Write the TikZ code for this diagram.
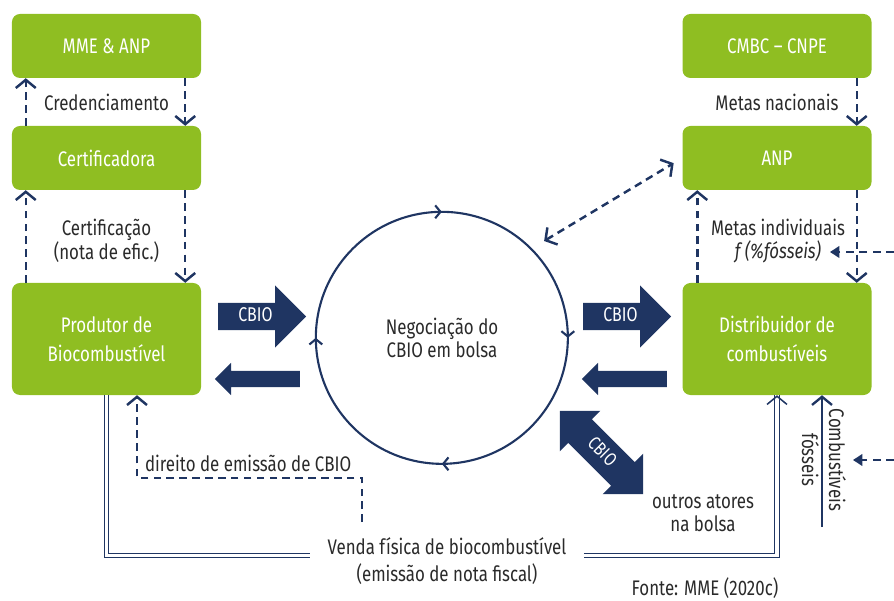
\documentclass[tikz,border=0pt]{standalone}
\usepackage{fontspec}
\setmainfont{Fira Sans}[FakeStretch=0.8]
\usetikzlibrary{arrows.meta, shapes.arrows, decorations.markings}
\definecolor{cbiogreen}{HTML}{8FBE22}
\definecolor{cbionavy}{HTML}{1F3562}
\definecolor{cbioink}{HTML}{2A2A2A}
\tikzset{
  chev/.tip={Straight Barb[length=7pt, width=17pt]},
  ringchev/.tip={Straight Barb[length=4.5pt, width=11pt]},
  feedtip/.tip={Triangle[length=8pt, width=10pt]},
  actor box/.style={rectangle, rounded corners=0.24cm, fill=cbiogreen,
    text=white, align=center, minimum width=5.67cm, minimum height=1.92cm,
    font=\fontsize{18}{24.5}\selectfont},
  flow label/.style={text=cbioink, align=center,
    font=\fontsize{18}{20}\selectfont},
  dash link/.style={draw=cbionavy, line width=2.1pt,
    dash pattern=on 6.5pt off 4.5pt, -chev},
  feed link/.style={draw=cbionavy, line width=1.4pt,
    dash pattern=on 6.5pt off 5pt, -feedtip},
  sale line/.style={draw=cbionavy, double=white, line width=0.9pt,
    double distance=2.6pt},
  fuel line/.style={draw=cbionavy, line width=2pt, -chev},
  cbio arrow/.style={single arrow, fill=cbionavy, text=white,
    inner xsep=0pt, inner ysep=0.25cm, text height=0.3cm, text depth=0pt,
    single arrow head extend=0.53cm, minimum width=0pt,
    minimum height=2.64cm, font=\fontsize{17}{18}\selectfont},
  back arrow/.style={single arrow, fill=cbionavy, inner xsep=0pt,
    inner ysep=0.24cm, text height=0pt, text depth=0pt,
    shape border rotate=180, single arrow head extend=0.24cm,
    minimum width=0pt, minimum height=2.55cm},
  swap arrow/.style={double arrow, fill=cbionavy, text=white,
    inner xsep=0pt, inner ysep=0.345cm, text height=0.3cm, text depth=0pt,
    double arrow head extend=0.36cm, minimum width=0pt,
    minimum height=3.54cm, font=\fontsize{16}{17}\selectfont},
  market ring/.style={draw=cbionavy, line width=1.8pt, postaction=decorate,
    decoration={markings,
      mark=between positions 0.125 and 0.875 step 0.25 with {\arrow{ringchev}}}},
}

\begin{document}
\begin{tikzpicture}[x=0.03cm, y=0.03cm]
  \useasboundingbox (0,0) rectangle (894,-601);

  % left column
  \node[actor box] (mme) at (106.5,-46) {MME \& ANP};
  \node[actor box] (cert) at (106.5,-158) {Certificadora};
  \node[actor box, minimum height=3.36cm] (prod) at (106.5,-339)
    {Produtor de\\Biocombustível};
  \draw[dash link] ([xshift=0.42cm]cert.north west) -- ([xshift=0.42cm]mme.south west);
  \draw[dash link] ([xshift=-0.48cm]mme.south east) -- ([xshift=-0.48cm]cert.north east);
  \node[flow label] (cred) at (106.5,-102) {Credenciamento};
  \draw[dash link] ([xshift=0.42cm]prod.north west) -- ([xshift=0.42cm]cert.south west);
  \draw[dash link] ([xshift=-0.48cm]cert.south east) -- ([xshift=-0.48cm]prod.north east);
  \node[flow label] (certif) at (106.5,-241) {Certificação\\(nota de efic.)};

  % right column
  \node[actor box] (cmbc) at (777,-46) {CMBC – CNPE};
  \node[actor box] (anp) at (777,-158) {ANP};
  \node[actor box, minimum height=3.36cm] (dist) at (777,-339)
    {Distribuidor de\\combustíveis};
  \draw[dash link] ([xshift=-0.45cm]cmbc.south east) -- ([xshift=-0.45cm]anp.north east);
  \node[flow label] (nac) at (777,-102) {Metas nacionais};
  \draw[dash link] ([xshift=0.45cm]dist.north west) -- ([xshift=0.45cm]anp.south west);
  \draw[dash link] ([xshift=-0.45cm]anp.south east) -- ([xshift=-0.45cm]dist.north east);
  \node[flow label] (indiv) at (778,-241)
    {Metas individuais\\\textit{f (\%fósseis)}};
  \coordinate (feedA) at (894,-252);
  \coordinate (feedAtip) at (830,-252);
  \draw[feed link] (feedA) -- (feedAtip);

  % exchange
  \node[circle, minimum size=7.56cm, inner sep=0pt, flow label] (bolsa)
    at (442,-338) {Negociação do\\CBIO em bolsa};
  \draw[market ring] (bolsa.135) arc[start angle=135, end angle=-225, radius=3.78cm];
  \draw[dash link, chev-chev, shorten <=0.45cm, shorten >=0.3cm]
    (bolsa.45) -- (anp.west);

  \node[cbio arrow, anchor=tail] (sellL) at (218,-316.5) {CBIO};
  \node[back arrow, anchor=tail] (payL) at (300,-379) {};
  \node[cbio arrow, anchor=tail] (sellR) at (583,-316.5) {CBIO};
  \node[back arrow, anchor=tail] (payR) at (667,-379) {};
  \node[swap arrow, rotate=-45] (other) at (601.5,-452.5) {CBIO};
  \node[flow label] (atores) at (703,-513) {outros atores\\na bolsa};

  % physical flows
  \node[flow label, font=\fontsize{18}{23}\selectfont] (venda) at (447,-561)
    {Venda física de biocombustível\\(emissão de nota fiscal)};
  \draw[sale line, shorten >=0.4cm] (prod.south) |- ([yshift=0.165cm]venda.west);
  \draw[sale line, shorten <=0.4cm] ([yshift=0.165cm]venda.east) -| (dist.south);
  \draw[draw=cbionavy, line width=1.3pt, -chev, shorten <=0.28cm]
    ([yshift=-0.3cm]dist.south) -- (dist.south);

  \coordinate (dirStart) at (362,-522);
  \draw[dash link] (dirStart) -- ++(0,44) -| ([xshift=0.915cm]prod.south);
  \node[flow label, anchor=west] (direito) at (141,-463) {direito de emissão de CBIO};

  \coordinate (fuelIn) at (822,-527);
  \draw[fuel line] (fuelIn) -- (fuelIn |- dist.south);
  \node[flow label, rotate=-90, font=\fontsize{18}{23}\selectfont] (fuelTxt)
    at (824,-460) {Combustíveis\\fósseis};
  \coordinate (feedB) at (894,-460);
  \coordinate (feedBtip) at (853,-460);
  \draw[feed link] (feedB) -- (feedBtip);

  \node[flow label] (fonte) at (705,-588) {Fonte: MME (2020c)};
\end{tikzpicture}
\end{document}
